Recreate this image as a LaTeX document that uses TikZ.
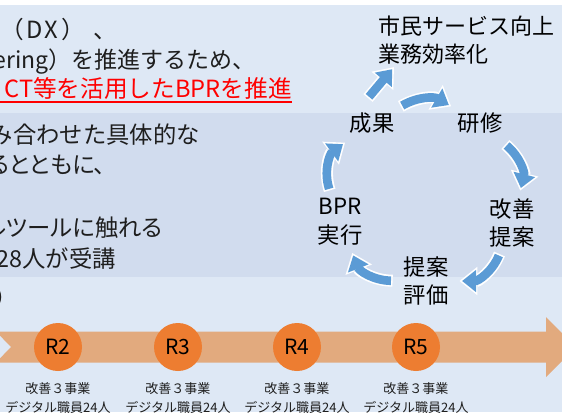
\documentclass[tikz,border=0pt]{standalone}
\usepackage{fontspec}
\setmainfont{Noto Sans CJK JP}
\usetikzlibrary{arrows.meta}
\definecolor{bgtop}{HTML}{DEE8F5}
\definecolor{bgband}{HTML}{D1DCEE}
\definecolor{cycblue}{HTML}{5B9BD5}
\definecolor{tlorange}{HTML}{E2AA7E}
\definecolor{dotorange}{HTML}{ED7D31}
\definecolor{txt}{HTML}{1E1E1E}
\begin{document}
\begin{tikzpicture}[x=0.75pt,y=-0.75pt,
  every node/.style={inner sep=0pt,text=txt},
  ltop/.style={font=\fontsize{17.75pt}{20pt}\selectfont,anchor=base east},
  lband/.style={font=\fontsize{17.5pt}{21pt}\selectfont,anchor=base east},
  prop/.style={font=\fontsize{17.5pt}{21pt}\selectfont\addfontfeatures{RawFeature=+palt}},
  cycnode/.style={circle,minimum size=49.5pt,align=center,text=black,
    font=\fontsize{16.75pt}{21.5pt}\selectfont},
  cycarr/.style={draw=cycblue,line width=6.5pt,line cap=butt,
    -{Triangle[length=10.5pt,width=16pt]},shorten >=2pt,shorten <=1.2pt,
    preaction={draw=white,line width=9pt,-{Triangle[length=13.5pt,width=20.5pt]},
      shorten >=0pt,shorten <=0pt}},
  dot/.style={circle,fill=dotorange,minimum size=36pt,text=black,
    font=\fontsize{15.75pt}{18pt}\selectfont},
  lab/.style={align=center,font=\fontsize{9.75pt}{14.25pt}\selectfont},
  ulred/.style={draw=red,line width=1.5pt}]
\useasboundingbox (0,0) rectangle (562,412);
\clip (0,0) rectangle (562,412);
% background
\fill[white] (0,0) rectangle (562,412);
\fill[bgtop] (0,5) rectangle (562,412);
\fill[bgband] (0,113) rectangle (562,277);
% left text
\node[ltop,anchor=base west] (l1) at (0,38) {（\kern2pt D\kern1pt X\kern3pt）\kern6pt 、};
\node[ltop,font=\fontsize{17.25pt}{20pt}\selectfont] (l2) at (256,68) {ering）を推進するため、};
\node[ltop,text=red] (l3) at (292,97) {CT等を活用したBPRを推進};
\draw[ulred] ([xshift=-20pt,yshift=-4pt]l3.base west) -- ([yshift=-4pt]l3.base east);
\node[lband] (l4) at (200,143) {み合わせた具体的な};
\node[lband,prop] (l5) at (106,173) {るとともに、};
\node[lband,prop] (l7) at (163,236) {ルツールに触れる};
\node[lband] (l8) at (116,267) {28人が受講};
\node[ltop,anchor=base west] (l9) at (-6,306) {）};
% cycle
\node[anchor=north west,align=left,text=black,
  font=\fontsize{16.5pt}{20.6pt}\selectfont] (shimin) at (378,16) {市民サービス向上\\業務効率化};
\node[cycnode] (cheng) at (372,123) {成果};
\node[cycnode] (kenshu) at (480,123) {研修};
\node[cycnode] (kaizen) at (512,223) {改善\\提案};
\node[cycnode] (hyoka) at (426,281) {提案\\評価};
\node[cycnode] (bpr) at (340,222) {BPR\\実行};
\draw[cycarr] (cheng) to[bend left=30] (kenshu);
\draw[cycarr] (kenshu) to[bend left=32] (kaizen);
\draw[cycarr] (kaizen) to[bend left=34] (hyoka);
\draw[cycarr] (hyoka) to[bend left=34] (bpr);
\draw[cycarr] (bpr) to[bend left=36] (cheng);
\draw[cycarr] ([xshift=-3pt,yshift=18.75pt]cheng.center) -- ([xshift=12pt,yshift=-2pt]shimin.south west);
% timeline
\fill[tlorange] (-4,331.5) -- (546,331.5) -- (546,317) -- (576,347) -- (546,377)
  -- (546,362.5) -- (-4,362.5) -- (11,347) -- cycle;
\node[dot] (r2) at (58,347) {R2};
\node[dot] (r3) at (178,347) {R3};
\node[dot] (r4) at (297,347) {R4};
\node[dot] (r5) at (416,347) {R5};
\node[lab] (t2) at (58,398) {改善３事業\\デジタル職員24人};
\node[lab] (t3) at (178,398) {改善３事業\\デジタル職員24人};
\node[lab] (t4) at (297,398) {改善３事業\\デジタル職員24人};
\node[lab] (t5) at (416,398) {改善３事業\\デジタル職員24人};
\end{tikzpicture}
\end{document}
